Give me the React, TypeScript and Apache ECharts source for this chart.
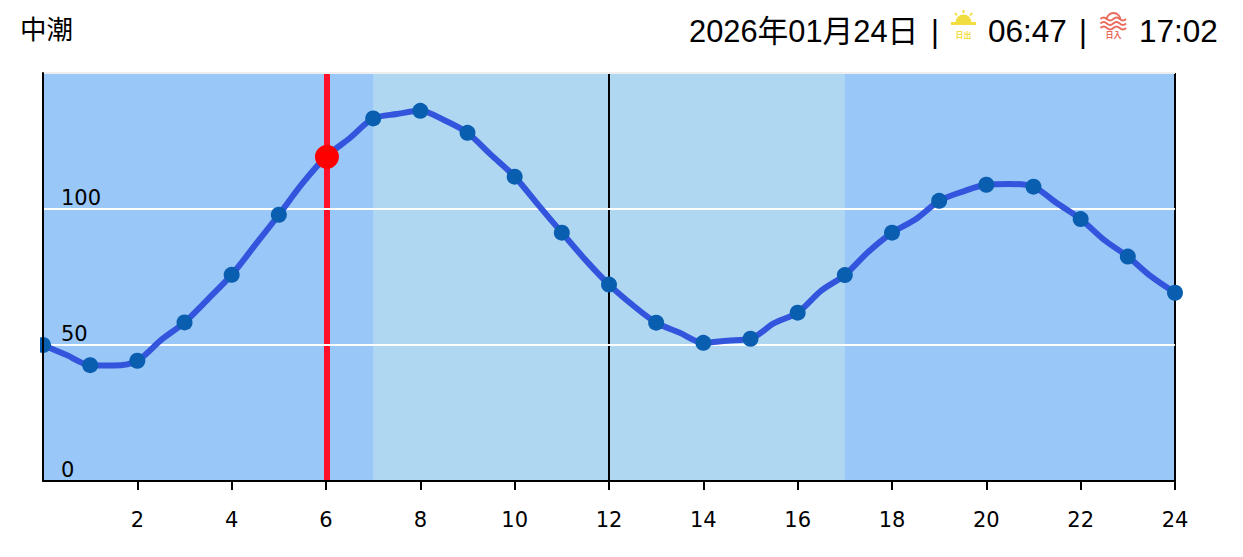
import React, { useEffect, useRef } from "react";
import * as echarts from "echarts";

const tideTitle = "中潮";
const dateLabel = "2026年01月24日";
const sunriseTime = "06:47";
const sunsetTime = "17:02";
const sunriseCaption = "日出";
const sunsetCaption = "日入";

const hours = [
  0, 0.5, 1, 1.5, 2, 2.5, 3, 3.5, 4, 4.5, 5, 5.5, 6, 6.5, 7, 7.5, 8, 8.5, 9, 9.5, 10, 10.5, 11, 11.5,
  12, 12.5, 13, 13.5, 14, 14.5, 15, 15.5, 16, 16.5, 17, 17.5, 18, 18.5, 19, 19.5, 20, 20.5, 21, 21.5, 22, 22.5, 23, 23.5, 24,
];
const tideLevels = [
  50, 46.3, 42.6, 42.5, 44.2, 51.8, 58.3, 66.9, 75.8, 86.8, 97.9, 109.4, 119.2, 126, 133.3, 134.9, 136.1, 132.7, 128, 119.9,
  111.9, 101.5, 91.3, 81.3, 72.2, 64.7, 58.2, 54.5, 50.8, 51.6, 52.3, 58, 61.9, 70, 75.7, 84.3, 91.3, 96.2, 103, 106.4,
  108.9, 109.2, 108.2, 102.1, 96.3, 88.6, 82.5, 75.1, 69.2,
];
const currentHour = 6.02;
const currentLevel = 119.2;
const sunriseBand = 7;
const sunsetBand = 17;
const hourDividers = [12, 24];
const levelGridlines = [50, 100];
const levelTop = 150;

const FONT_CJK = '"Noto Sans CJK JP", "Noto Sans", sans-serif';
const FONT_HEAD = '"Liberation Sans", "Noto Sans CJK JP", sans-serif';
const FONT_AXIS = '"DejaVu Sans", sans-serif';
const DARK_BAND = "#98c7f8";
const LIGHT_BAND = "#b0d7f2";
const YELLOW = "#f1dd3f";
const SALMON = "#ea6a5c";

const wave = (y: number) => `M1100.5 ${y} q3.2 -3 6.4 0 t6.4 0 t6.4 0 t6.4 0`;
echarts.graphic.registerShape("sunsetWaves", echarts.graphic.extendPath(`${wave(19)} ${wave(23.5)} ${wave(28)}`, {}));

const headerText = (text: string, x: number, font: string, y = 31) => ({
  type: "text",
  x,
  y,
  z: 20,
  silent: true,
  style: { text, fill: "#000", font, textVerticalAlign: "middle", textAlign: "left" },
});

export default function App() {
  const ref = useRef<HTMLDivElement>(null);
  useEffect(() => {
    document.body.style.margin = "0";
    const chart = echarts.init(ref.current!, null, { renderer: "svg" });
    const pts = hours.map((h, i) => [h, tideLevels[i]]);
    const hourPts = pts.filter((p) => Number.isInteger(p[0]));
    const noLine = { symbol: "none", silent: true, lineStyle: { width: 0 }, data: [] as any[] };
    chart.setOption({
      animation: false,
      tooltip: { show: false },
      grid: { left: 43, right: 68, top: 73, bottom: 76 },
      xAxis: {
        type: "value",
        min: 0,
        max: 24,
        interval: 2,
        z: 6,
        axisLine: { show: true, onZero: false, lineStyle: { color: "#000", width: 2 } },
        axisTick: { show: true, length: 9, lineStyle: { color: "#000", width: 2 } },
        axisLabel: {
          color: "#000",
          fontFamily: FONT_AXIS,
          fontSize: 21,
          margin: 28,
          showMinLabel: false,
          formatter: (v: number) => (v === 0 ? "" : String(v)),
        },
        splitLine: { show: false },
      },
      yAxis: {
        type: "value",
        min: 0,
        max: levelTop,
        interval: 50,
        z: 6,
        axisLine: { show: true, onZero: false, lineStyle: { color: "#000", width: 2 } },
        axisTick: { show: false },
        axisLabel: {
          inside: true,
          color: "#000",
          fontFamily: FONT_AXIS,
          fontSize: 21,
          margin: 18,
          verticalAlign: "bottom",
          padding: [0, 0, 1, 0],
          showMaxLabel: false,
          formatter: (v: number) => (v === levelTop ? "" : String(v)),
        },
        splitLine: { show: false },
      },
      series: [
        {
          type: "line",
          z: 1,
          ...noLine,
          markArea: {
            silent: true,
            z: 1,
            data: [
              [{ xAxis: 0, itemStyle: { color: DARK_BAND } }, { xAxis: 24 }],
              [{ xAxis: sunriseBand, itemStyle: { color: LIGHT_BAND } }, { xAxis: sunsetBand }],
            ],
          },
        },
        {
          type: "line",
          z: 2,
          ...noLine,
          markLine: {
            silent: true,
            z: 2,
            symbol: "none",
            label: { show: false },
            data: [
              { xAxis: currentHour, lineStyle: { color: "#ff0f2a", width: 6, type: "solid" } },
              ...hourDividers.map((h) => ({ xAxis: h, lineStyle: { color: "#000", width: 2, type: "solid" } })),
            ],
          },
        },
        {
          type: "line",
          z: 3,
          ...noLine,
          markLine: {
            silent: true,
            z: 3,
            symbol: "none",
            label: { show: false },
            data: [
              ...levelGridlines.map((v) => ({ yAxis: v, lineStyle: { color: "#fff", width: 2, type: "solid" } })),
              { yAxis: levelTop, lineStyle: { color: "#eeeeee", width: 2, type: "solid" } },
            ],
          },
        },
        {
          type: "line",
          z: 4,
          silent: true,
          data: pts,
          smooth: 0.3,
          symbol: "none",
          lineStyle: { color: "#3355dd", width: 6 },
        },
        {
          type: "scatter",
          z: 5,
          silent: true,
          clip: false,
          data: hourPts,
          symbol: "circle",
          symbolSize: 16,
          itemStyle: { color: "#0a5eb0", opacity: 1 },
        },
        {
          type: "scatter",
          z: 7,
          silent: true,
          data: [[currentHour, currentLevel]],
          symbol: "circle",
          symbolSize: 24,
          itemStyle: { color: "#ff0000", opacity: 1 },
        },
      ],
      graphic: [
        { type: "rect", silent: true, z: 15, shape: { x: 0, y: 330, width: 40, height: 30 }, style: { fill: "#fff" } },
        headerText(tideTitle, 20, `26.5px ${FONT_CJK}`, 27),
        headerText(dateLabel, 689, `30.8px ${FONT_HEAD}`),
        headerText("|", 931, `30.5px ${FONT_HEAD}`),
        headerText(sunriseTime, 988, `31.5px ${FONT_HEAD}`),
        headerText("|", 1079, `30.5px ${FONT_HEAD}`),
        headerText(sunsetTime, 1139, `31.5px ${FONT_HEAD}`),
        // sunrise icon
        { type: "sector", silent: true, z: 20, shape: { cx: 963.5, cy: 22.5, r0: 0, r: 8, startAngle: Math.PI, endAngle: 2 * Math.PI }, style: { fill: YELLOW } },
        { type: "rect", silent: true, z: 20, shape: { x: 951, y: 22, width: 25, height: 3 }, style: { fill: YELLOW } },
        ...[
          [963.5, 10, 963.5, 13],
          [955, 13, 957, 15.5],
          [972, 13, 970, 15.5],
        ].map(([x1, y1, x2, y2]) => ({
          type: "line",
          silent: true,
          z: 20,
          shape: { x1, y1, x2, y2 },
          style: { stroke: YELLOW, lineWidth: 2 },
        })),
        { type: "text", silent: true, z: 20, x: 963.5, y: 34.5, style: { text: sunriseCaption, fill: YELLOW, font: `bold 8px ${FONT_CJK}`, textAlign: "center", textVerticalAlign: "middle" } },
        // sunset icon
        { type: "arc", silent: true, z: 20, shape: { cx: 1113.5, cy: 20, r: 7, startAngle: Math.PI, endAngle: 2 * Math.PI }, style: { stroke: SALMON, lineWidth: 1.8, fill: "none" } },
        { type: "sunsetWaves", silent: true, z: 20, x: 0, y: 0, style: { stroke: SALMON, lineWidth: 1.8, fill: "none" } },
        { type: "text", silent: true, z: 20, x: 1113.5, y: 34.5, style: { text: sunsetCaption, fill: SALMON, font: `bold 8px ${FONT_CJK}`, textAlign: "center", textVerticalAlign: "middle" } },
      ],
    });
    return () => chart.dispose();
  }, []);
  return <div ref={ref} style={{ width: 1243, height: 557 }} />;
}
